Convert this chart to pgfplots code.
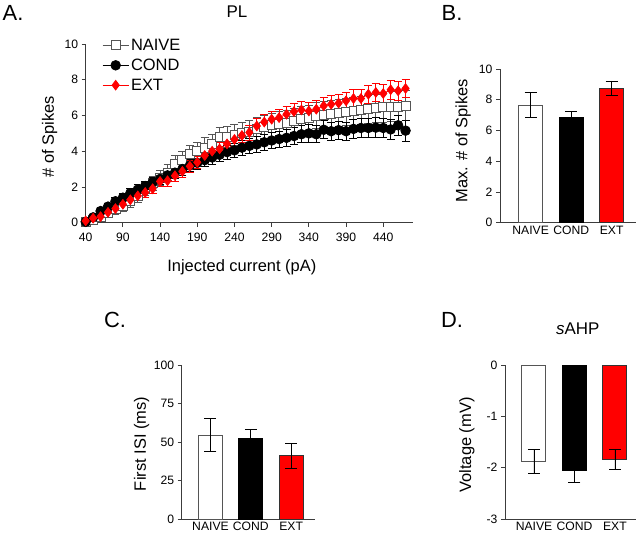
\documentclass[border=0pt]{standalone}
\usepackage{fontspec}
\setmainfont{Liberation Sans}
\usepackage{pgfplots}
\usepackage{pgfplotstable}
\pgfplotsset{compat=1.18}

% spikes vs injected current (mean, sem)
\pgfplotstableread{
x   n    ne   c    ce   e    ee
40  0.05 0.10 0.05 0.05 0.10 0.08
50  0.15 0.15 0.30 0.10 0.25 0.10
60  0.30 0.20 0.65 0.15 0.34 0.12
70  0.55 0.25 0.90 0.18 0.58 0.15
80  0.75 0.28 1.20 0.20 0.79 0.18
90  0.95 0.30 1.40 0.22 1.03 0.20
100 1.20 0.32 1.65 0.25 1.28 0.22
110 1.50 0.35 1.85 0.27 1.50 0.25
120 1.90 0.38 2.05 0.28 1.69 0.27
130 2.20 0.40 2.25 0.30 1.90 0.28
140 2.50 0.42 2.45 0.30 2.31 0.30
150 2.80 0.45 2.65 0.32 2.35 0.30
160 3.30 0.48 2.80 0.33 2.63 0.32
170 3.50 0.50 3.00 0.34 2.87 0.33
180 3.85 0.50 3.20 0.35 3.16 0.34
190 4.00 0.52 3.35 0.36 3.38 0.35
200 4.20 0.55 3.50 0.37 3.76 0.36
210 4.40 0.55 3.65 0.38 4.00 0.37
220 4.80 0.55 3.80 0.38 4.13 0.38
230 4.80 0.58 3.95 0.40 4.41 0.39
240 4.90 0.60 4.05 0.40 4.66 0.40
250 5.00 0.60 4.20 0.42 4.88 0.40
260 5.10 0.62 4.30 0.42 5.05 0.42
270 5.25 0.63 4.38 0.43 5.41 0.42
280 5.35 0.65 4.50 0.44 5.63 0.43
290 5.45 0.65 4.60 0.45 5.79 0.44
300 5.55 0.66 4.68 0.45 5.88 0.44
310 5.60 0.67 4.75 0.46 6.07 0.45
320 5.70 0.68 4.85 0.46 6.22 0.45
330 5.80 0.70 4.95 0.47 6.31 0.46
340 5.85 0.70 5.00 0.48 6.25 0.46
350 6.00 0.72 4.95 0.48 6.35 0.47
360 6.05 0.72 5.20 0.50 6.54 0.47
370 6.10 0.74 5.12 0.50 6.63 0.48
380 6.15 0.75 5.18 0.50 6.69 0.48
390 6.20 0.76 5.12 0.52 6.82 0.48
400 6.25 0.78 5.25 0.52 6.95 0.49
410 6.30 0.78 5.30 0.53 6.95 0.50
420 6.35 0.80 5.30 0.54 7.19 0.50
430 6.40 0.80 5.32 0.55 7.29 0.50
440 6.45 0.82 5.30 0.55 7.23 0.51
450 6.50 0.82 5.22 0.56 7.44 0.52
460 6.50 0.84 5.45 0.56 7.38 0.52
470 6.55 0.85 5.15 0.58 7.51 0.52
}\spikes

\definecolor{axisgray}{HTML}{3C3C3C}
\definecolor{naivegray}{HTML}{555555}
\definecolor{extred}{HTML}{FF0000}

\pgfplotsset{
  prism/.style={
    scale only axis, anchor=south west, clip=false,
    axis lines=left, axis line style={-, axisgray, line width=0.9bp},
    tick align=outside, major tick length=4bp,
    tick style={axisgray, line width=0.9bp},
    every tick label/.append style={font=\fontsize{12.2}{14}\selectfont},
    /pgf/number format/assume math mode=true,
    label style={font=\fontsize{16.5}{19}\selectfont},
    title style={font=\fontsize{17}{20}\selectfont, anchor=center},
    ylabel style={anchor=center},
  },
  barplot/.style={
    prism, ybar, bar width=24bp, bar shift=0pt,
    xtick={0,1,2}, xticklabels={NAIVE,COND,EXT}, xtick style={draw=none},
    xticklabel style={yshift=4.5bp},
  },
  barerr/.style={
    error bars/.cd, y dir=both, y explicit,
    error bar style={black, line width=0.9bp},
    error mark options={rotate=90, black, mark size=6bp, line width=0.9bp},
  },
}

\begin{document}
\begin{tikzpicture}
\path[use as bounding box] (0,0) rectangle (640bp,533bp);

% ---- A: spikes vs current
\begin{axis}[prism,
  at={(85.7bp,310.3bp)}, width=327.3bp, height=178.7bp,
  xmin=40, xmax=480, ymin=0, ymax=10,
  xtick={40,90,...,440}, ytick={0,2,...,10},
  xticklabel style={yshift=-2.5bp},
  xlabel={Injected current (pA)}, ylabel={\# of Spikes},
  xlabel style={at={(axis description cs:0.477,-0.248)}, anchor=center},
  ylabel style={at={(axis description cs:-0.11,0.48)}},
  title={PL}, title style={at={(axis description cs:0.462,1.145)}},
  legend style={at={(axis description cs:0.05,1.04)}, anchor=north west,
    draw=none, fill=none, font=\fontsize{16.5}{19}\selectfont,
    row sep=3bp, inner sep=0pt},
  legend cell align=left,
  legend image code/.code={\draw[mark repeat=2,mark phase=2,#1]
    plot coordinates {(0bp,0bp) (13bp,0bp) (26bp,0bp)};},
]
\addplot[naivegray, line width=0.8bp, mark=square*, mark size=4.5bp,
  mark options={fill=white, draw=naivegray, line width=0.9bp},
  error bars/.cd, y dir=both, y explicit,
  error bar style={naivegray, line width=0.8bp},
  error mark options={rotate=90, naivegray, mark size=4bp, line width=0.8bp}]
  table[x=x, y=n, y error=ne] {\spikes};
\addlegendentry{NAIVE}
\addplot[black, line width=0.8bp, mark=*, mark size=4.8bp,
  mark options={fill=black, draw=black},
  error bars/.cd, y dir=both, y explicit,
  error bar style={black, line width=0.8bp},
  error mark options={rotate=90, black, mark size=4bp, line width=0.8bp}]
  table[x=x, y=c, y error=ce] {\spikes};
\addlegendentry{COND}
\addplot[extred, line width=0.8bp, mark=diamond*, mark size=4.8bp,
  mark options={fill=extred, draw=extred},
  error bars/.cd, y dir=both, y explicit,
  error bar style={extred, line width=0.8bp},
  error mark options={rotate=90, extred, mark size=4bp, line width=0.8bp}]
  table[x=x, y=e, y error=ee] {\spikes};
\addlegendentry{EXT}
\end{axis}

% ---- B: max spikes
\begin{axis}[barplot,
  at={(500bp,310.3bp)}, width=136bp, height=153.7bp,
  xmin=-0.758, xmax=2.6, ymin=0, ymax=10, ytick={0,2,...,10},
  ylabel={Max. \# of Spikes},
  ylabel style={at={(axis description cs:-0.272,0.533)}},
]
\addplot[fill=white, draw=naivegray, line width=1bp, barerr] coordinates {(0,7.65) +- (0,0.80)};
\addplot[fill=black, draw=black, line width=1bp, barerr] coordinates {(1,6.83) +- (0,0.43)};
\addplot[fill=extred, draw=black!80, line width=1bp, barerr] coordinates {(2,8.74) +- (0,0.48)};
\end{axis}

% ---- C: first ISI
\begin{axis}[barplot,
  at={(181.7bp,14bp)}, width=133.3bp, height=154bp,
  xmin=-0.713, xmax=2.59, ymin=0, ymax=100, ytick={0,25,...,100},
  ylabel={First ISI (ms)},
  ylabel style={at={(axis description cs:-0.3,0.487)}},
]
\addplot[fill=white, draw=naivegray, line width=1bp, barerr] coordinates {(0,54.5) +- (0,10.5)};
\addplot[fill=black, draw=black, line width=1bp, barerr] coordinates {(1,52.1) +- (0,6.0)};
\addplot[fill=extred, draw=black!80, line width=1bp, barerr] coordinates {(2,41.0) +- (0,7.9)};
\end{axis}

% ---- D: sAHP
\begin{axis}[barplot,
  at={(505bp,14bp)}, width=131bp, height=154bp,
  xmin=-0.716, xmax=2.52, ymin=-3, ymax=0, ytick={-3,-2,-1,0},
  ylabel={Voltage (mV)},
  ylabel style={at={(axis description cs:-0.292,0.481)}},
  title={\textit{s}AHP}, title style={at={(axis description cs:0.555,1.195)}},
]
\addplot[fill=white, draw=naivegray, line width=1bp, barerr] coordinates {(0,-1.88) +- (0,0.23)};
\addplot[fill=black, draw=black, line width=1bp, barerr] coordinates {(1,-2.05) +- (0,0.24)};
\addplot[fill=extred, draw=black!80, line width=1bp, barerr] coordinates {(2,-1.84) +- (0,0.19)};
\end{axis}

% panel letters
\node[font=\fontsize{22}{24}\selectfont] at (13bp,520bp) {A.};
\node[font=\fontsize{22}{24}\selectfont] at (452bp,520bp) {B.};
\node[font=\fontsize{22}{24}\selectfont] at (115bp,213bp) {C.};
\node[font=\fontsize{22}{24}\selectfont] at (452bp,213bp) {D.};
\end{tikzpicture}
\end{document}
